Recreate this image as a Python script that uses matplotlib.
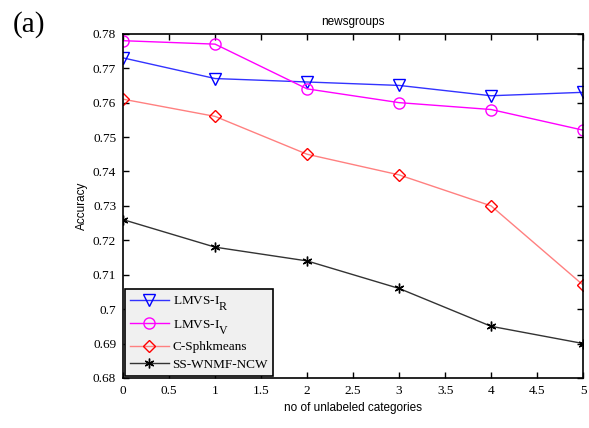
import numpy as np
import matplotlib.pyplot as plt
import matplotlib._mathtext as mtext

# subscripts in the original are nearly full size and dropped low
mtext.SHRINK_FACTOR = 0.9
mtext.FontConstantsBase.sub1 = 1.0
mtext.FontConstantsBase.subdrop = 0.8

x = [0, 1, 2, 3, 4, 5]
lmvs_ir = [0.773, 0.767, 0.766, 0.765, 0.762, 0.763]
lmvs_iv = [0.778, 0.777, 0.764, 0.760, 0.758, 0.752]
c_sphk = [0.761, 0.756, 0.745, 0.739, 0.730, 0.707]
ss_wnmf = [0.726, 0.718, 0.714, 0.706, 0.695, 0.690]

serif = ['Liberation Serif', 'DejaVu Serif']
sans = ['Liberation Sans', 'DejaVu Sans']
plt.rcParams['mathtext.fontset'] = 'custom'
plt.rcParams['mathtext.rm'] = 'Liberation Serif'
plt.rcParams['mathtext.it'] = 'Liberation Serif:italic'

fig = plt.figure(figsize=(5.89, 4.28), dpi=100)
ax = fig.add_axes([0.209, 0.117, 0.781, 0.804])

ax.plot(x, lmvs_ir, color='#3333ff', marker='v', markersize=8, mfc='none',
        mec='#0000ff', lw=1, label=r'LMVS-I$_\mathrm{R}$')
ax.plot(x, lmvs_iv, color='#ff00ff', marker='o', markersize=8, mfc='none',
        mec='#ff00ff', lw=1, label=r'LMVS-I$_\mathrm{V}$')
ax.plot(x, c_sphk, color='#ff8080', marker='D', markersize=6, mfc='none',
        mec='#ff0000', lw=1, label='C-Sphkmeans')
ax.plot(x, ss_wnmf, color='#333333', marker=(6, 2, 0), markersize=7,
        mec='black', lw=1, label='SS-WNMF-NCW')

ax.set_xlim(0, 5)
ax.set_ylim(0.68, 0.78)
ax.set_xticks(np.arange(0, 5.01, 0.5))
ax.set_xticklabels(['0', '0.5', '1', '1.5', '2', '2.5', '3', '3.5', '4', '4.5', '5'])
ax.set_yticks(np.arange(0.68, 0.7801, 0.01))
ax.set_yticklabels(['0.68', '0.69', '0.7', '0.71', '0.72', '0.73', '0.74',
                    '0.75', '0.76', '0.77', '0.78'])
ax.tick_params(direction='in', top=True, right=True, length=4, width=1,
               labelsize=9.5, pad=5)
for lab in ax.get_xticklabels() + ax.get_yticklabels():
    lab.set_family(serif)
for s in ax.spines.values():
    s.set_linewidth(1.2)

ax.set_xlabel('no of unlabeled categories', family=sans, fontsize=8.5, labelpad=4)
ax.set_ylabel('Accuracy', family=sans, fontsize=8.5, labelpad=3.5)
ax.set_title('newsgroups', family=sans, fontsize=8.5, pad=6)

leg = ax.legend(loc='lower left', prop={'family': serif, 'size': 9.5},
                fancybox=False, edgecolor='black', facecolor='#f0f0f0',
                framealpha=1, borderaxespad=0.15, handlelength=2.9,
                labelspacing=0.4, borderpad=0.4, handletextpad=0.3)
leg.get_frame().set_linewidth(1.2)

fig.text(0.022, 0.925, '(a)', family=serif, fontsize=21)

fig.savefig('out.png', dpi=100)
